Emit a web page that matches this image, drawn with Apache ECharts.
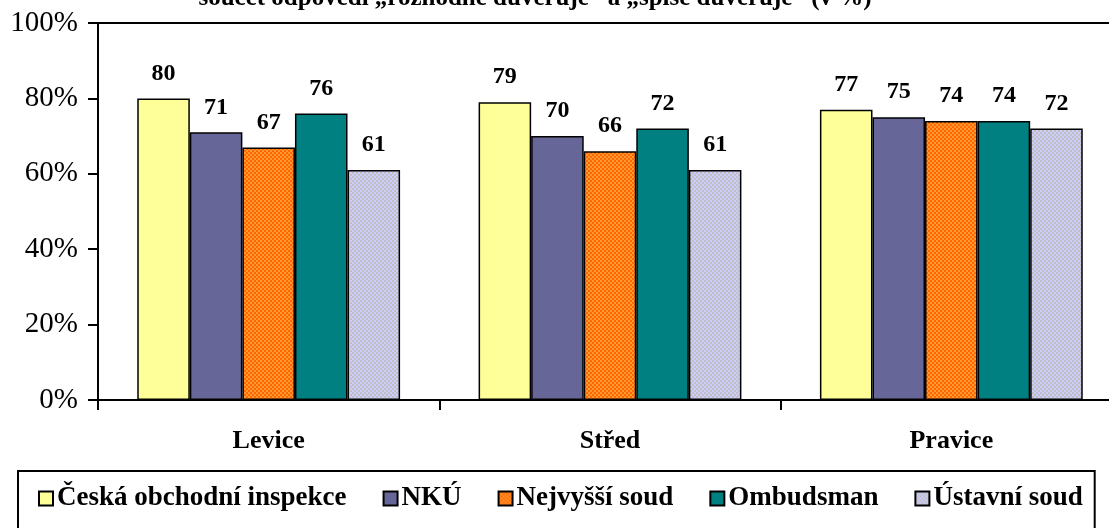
<!DOCTYPE html>
<html><head><meta charset="utf-8">
<script src="https://cdn.jsdelivr.net/npm/echarts@6/dist/echarts.min.js"></script>
<style>html,body{margin:0;padding:0;background:#fff}#c{width:1109px;height:528px}</style>
</head><body><div id="c"></div>
<script>
const categories = ['Levice', 'Střed', 'Pravice'];
const seriesNames = ['Česká obchodní inspekce', 'NKÚ', 'Nejvyšší soud', 'Ombudsman', 'Ústavní soud'];
const ceskaObchodniInspekce = [80, 79, 77];
const nku = [71, 70, 75];
const nejvyssiSoud = [67, 66, 74];
const ombudsman = [76, 72, 74];
const ustavniSoud = [61, 61, 72];
const yTicks = [0, 20, 40, 60, 80, 100];
const titleText = 'součet odpovědí „rozhodně důvěřuje“ a „spíše důvěřuje“ (v %)';

function checker(c1, c2) {
  const cv = document.createElement('canvas');
  cv.width = 4; cv.height = 4;
  const g = cv.getContext('2d');
  g.fillStyle = c1; g.fillRect(0, 0, 4, 4);
  g.fillStyle = c2; g.fillRect(0, 0, 2, 2); g.fillRect(2, 2, 2, 2);
  return { image: cv, repeat: 'repeat' };
}
const fills = [
  '#FFFF99',
  '#666699',
  checker('#FF6600', '#FF9933'),
  '#008080',
  checker('#CCCCFF', '#C0C0C0')
];
const values = [ceskaObchodniInspekce, nku, nejvyssiSoud, ombudsman, ustavniSoud];
const serif = '"Liberation Serif", "Times New Roman", serif';

const chart = echarts.init(document.getElementById('c'));
chart.setOption({
  animation: false,
  title: {
    text: titleText, left: 530, textAlign: 'center', top: -19,
    textStyle: { fontFamily: serif, fontWeight: 'bold', fontSize: 25, color: '#000' }
  },
  grid: { left: 98, right: -13, top: 23, bottom: 128, show: true, borderColor: '#000', borderWidth: 2, containLabel: false, outerBoundsMode: 'none' },
  xAxis: {
    type: 'category', data: categories,
    axisLine: { lineStyle: { color: '#000', width: 2 } },
    axisTick: { show: true, length: 10, inside: false, lineStyle: { color: '#000', width: 2 } },
    axisLabel: { fontFamily: serif, fontWeight: 'bold', fontSize: 26, color: '#000', margin: 28 }
  },
  yAxis: {
    type: 'value', min: 0, max: 100, interval: 20,
    axisLine: { show: true, lineStyle: { color: '#000', width: 2 } },
    axisTick: { show: true, length: 10, lineStyle: { color: '#000', width: 2 } },
    splitLine: { show: false },
    axisLabel: { fontFamily: serif, fontSize: 29, color: '#000', margin: 20, formatter: v => yTicks.includes(v) ? v + '%' : '' }
  },
  legend: {
    left: 18, top: 471,
    padding: [14, 12, 18, 20], itemGap: 36,
    borderColor: '#000', borderWidth: 2, backgroundColor: '#fff',
    itemWidth: 14, itemHeight: 14, icon: 'rect',
    textStyle: { fontFamily: serif, fontWeight: 'bold', fontSize: 27, color: '#000', padding: [0, 0, 0, -1] },
    data: seriesNames
  },
  series: seriesNames.map((name, i) => ({
    name, type: 'bar', data: values[i],
    barGap: '0%', barCategoryGap: '23%',
    itemStyle: { color: fills[i], borderColor: '#000', borderWidth: 1.5 },
    label: { show: true, position: 'top', distance: 13, fontFamily: serif, fontWeight: 'bold', fontSize: 24, color: '#000' }
  }))
});
</script></body></html>
